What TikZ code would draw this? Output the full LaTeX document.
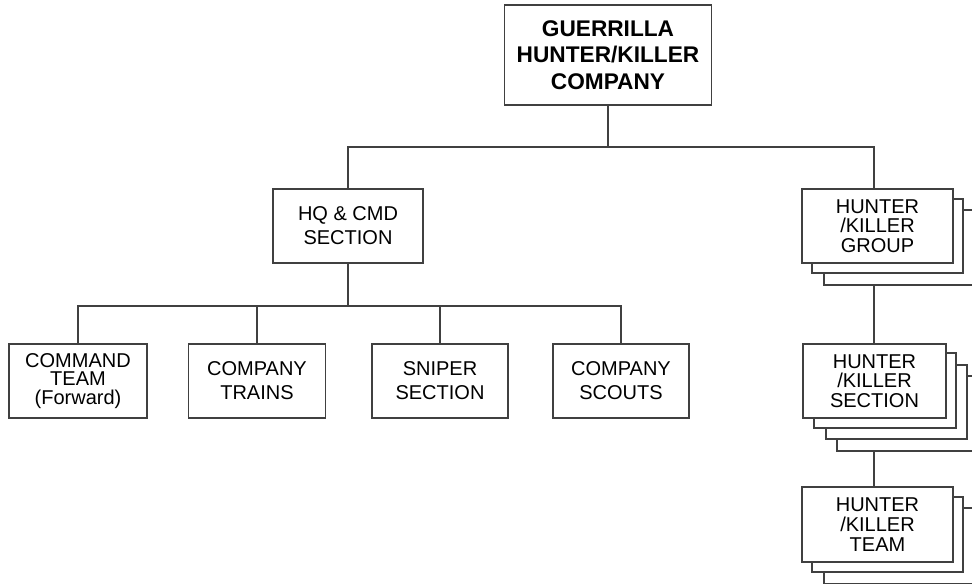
\documentclass[tikz,border=0pt]{standalone}
\usepackage{fontspec}
\setmainfont{Liberation Sans}
\definecolor{linecol}{RGB}{64,64,64}
\begin{document}
\begin{tikzpicture}[x=0.75pt,y=-0.75pt,
  box/.style={draw=linecol,line width=0.9pt,fill=white,inner sep=0pt,align=center,
    font=\fontsize{15}{18}\selectfont},
  hkbox/.style={box,font=\fontsize{15}{14.8}\selectfont},
  back/.style={draw=linecol,line width=0.9pt,fill=white,inner sep=0pt},
  conn/.style={draw=linecol,line width=0.9pt}]
\useasboundingbox (0,0) rectangle (972,583);
\clip (0,0) rectangle (972,583);
% top
\node[box,minimum width=155.25pt,minimum height=75pt,font=\bfseries\fontsize{17}{19.7}\selectfont] (top) at (608,55) {GUERRILLA\\HUNTER/KILLER\\COMPANY};
% HQ
\node[box,minimum width=112.5pt,minimum height=55.5pt] (hq) at (348,226) {HQ \& CMD\\SECTION};
% children
\node[box,minimum width=103.5pt,minimum height=55.5pt,font=\fontsize{15}{13.75}\selectfont] (cmd) at (78,381) {COMMAND\\TEAM\\(Forward)};
\node[box,minimum width=102.75pt,minimum height=55.5pt] (trains) at (257,381) {COMPANY\\TRAINS};
\node[box,minimum width=102pt,minimum height=55.5pt] (sniper) at (440,381) {SNIPER\\SECTION};
\node[box,minimum width=102pt,minimum height=55.5pt] (scouts) at (621,381) {COMPANY\\SCOUTS};
% hunter/killer group stack
\node[back,minimum width=113.25pt,minimum height=56.25pt] (grp3) at (899.5,247.5) {};
\node[back,minimum width=113.25pt,minimum height=55.5pt] (grp2) at (887.5,236) {};
\node[hkbox,minimum width=113.25pt,minimum height=55.5pt] (grp) at (877.5,226) {HUNTER\\/KILLER\\GROUP};
% hunter/killer section stack
\node[back,minimum width=107.25pt,minimum height=56.25pt] (sec4) at (908.5,413.5) {};
\node[back,minimum width=105.75pt,minimum height=55.5pt] (sec3) at (896.5,402) {};
\node[back,minimum width=106.5pt,minimum height=56.25pt] (sec2) at (885,390.5) {};
\node[hkbox,minimum width=107.25pt,minimum height=55.5pt] (sec) at (874.5,381) {HUNTER\\/KILLER\\SECTION};
% hunter/killer team stack
\node[back,minimum width=113.25pt,minimum height=57pt] (team3) at (899.5,546) {};
\node[back,minimum width=113.25pt,minimum height=56.25pt] (team2) at (887.5,534.5) {};
\node[hkbox,minimum width=113.25pt,minimum height=56.25pt] (team) at (877.5,524.5) {HUNTER\\/KILLER\\TEAM};
% connectors
\coordinate (bus1) at (0,147);
\coordinate (bus2) at (0,306);
\coordinate (gx) at (874,0);
\draw[conn] (top.south) -- (top.south |- bus1) -| (hq.north);
\draw[conn] (top.south |- bus1) -| (gx |- grp.north);
\draw[conn] (hq.south) -- (hq.south |- bus2) -| (cmd.north);
\draw[conn] (hq.south |- bus2) -| (trains.north);
\draw[conn] (hq.south |- bus2) -| (sniper.north);
\draw[conn] (hq.south |- bus2) -| (scouts.north);
\draw[conn] (gx |- grp3.south) -- (gx |- sec.north);
\draw[conn] (gx |- sec4.south) -- (gx |- team.north);
\end{tikzpicture}
\end{document}
